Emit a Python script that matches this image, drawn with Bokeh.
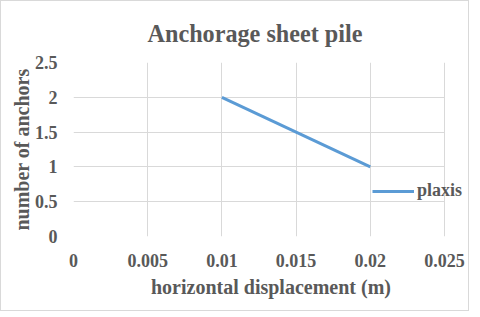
from bokeh.plotting import figure
from bokeh.models import FixedTicker, Legend, LegendItem, Range1d, Title
from bokeh.embed import file_html
from bokeh.resources import INLINE

# data
x_disp = [0.01, 0.02]
n_anchors = [2, 1]
series_name = "plaxis"
x_ticks = [0, 0.005, 0.01, 0.015, 0.02, 0.025]
x_tick_labels = ["0", "0.005", "0.01", "0.015", "0.02", "0.025"]
y_ticks = [0, 0.5, 1, 1.5, 2, 2.5]
y_tick_labels = ["0", "0.5", "1", "1.5", "2", "2.5"]

FONT = "Liberation Serif"
TXT = "#595959"
GRID = "#D9D9D9"

W, H = 469, 311
ML, MR, MT, MB = 72, 2, 61, 76
frame_w = W - ML - MR
plot_w = 371  # pixel width of the 0..0.025 plot area; the rest holds the legend
x_end = x_ticks[-1] * frame_w / plot_w

p = figure(width=W, height=H, output_backend="svg", toolbar_location=None,
           x_range=Range1d(x_ticks[0], x_end), y_range=Range1d(y_ticks[0], y_ticks[-1]),
           min_border_left=ML, min_border_right=MR, min_border_bottom=MB, min_border_top=MT)

p.title = Title(text="Anchorage sheet pile", align="left", offset=74, text_font=FONT,
                text_font_size="24.2px", text_font_style="bold", text_color=TXT, standoff=32)

r = p.line(x_disp, n_anchors, line_color="#5B9BD5", line_width=3)

for ax, ticks, labels in ((p.xaxis[0], x_ticks, x_tick_labels), (p.yaxis[0], y_ticks, y_tick_labels)):
    ax.ticker = FixedTicker(ticks=ticks)
    ax.major_label_overrides = {t: l for t, l in zip(ticks, labels)}
    ax.axis_line_color = None
    ax.major_tick_line_color = None
    ax.minor_tick_line_color = None
    ax.major_label_text_font = FONT
    ax.major_label_text_font_size = "18px"
    ax.major_label_text_font_style = "bold"
    ax.major_label_text_color = TXT
    ax.axis_label_text_font = FONT
    ax.axis_label_text_font_size = "20px"
    ax.axis_label_text_font_style = "bold"
    ax.axis_label_text_color = TXT

p.xaxis.axis_label = "horizontal displacement (m)"
p.yaxis.axis_label = "number of anchors"
p.xaxis.major_label_standoff = 11
p.xaxis.axis_label_standoff = 6
p.yaxis.major_label_standoff = 10
p.yaxis.axis_label_standoff = -1

p.xgrid.ticker = FixedTicker(ticks=x_ticks)
p.ygrid.ticker = FixedTicker(ticks=y_ticks)
p.ygrid.cross_bounds = (x_ticks[0], x_ticks[-1])
p.grid.grid_line_color = GRID
p.grid.grid_line_width = 1
p.outline_line_color = None

legend = Legend(items=[LegendItem(label=series_name, renderers=[r])], location=(299, 35),
                border_line_alpha=0, background_fill_alpha=0, padding=0, margin=0,
                glyph_width=42, glyph_height=16, label_height=16, label_standoff=3,
                label_text_font=FONT, label_text_font_size="18px",
                label_text_font_style="bold", label_text_color=TXT)
p.add_layout(legend, "center")

p.styles = {"border": "1px solid #D9D9D9"}

open("out.html", "w").write(file_html(p, INLINE))
